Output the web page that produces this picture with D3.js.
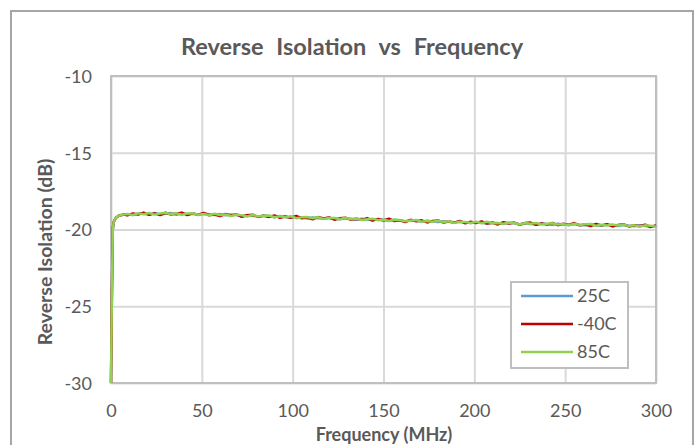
<!DOCTYPE html>
<html><head><meta charset="utf-8">
<script src="https://cdn.jsdelivr.net/npm/d3@7"></script>
<style>body{margin:0;background:#fff;}svg{display:block;font-family:Lato,"Open Sans",sans-serif;}</style>
</head><body><svg id="c" width="699" height="445"></svg>
<script>
const freq = [0,0.5,1,1.5,2,3,4,5,6,7,
9,12,15,18,21,24,27,30,33,36,39,42,45,48,51,54,57,60,63,66,69,72,75,78,81,84,87,90,93,96,99,
102,105,108,111,114,117,120,123,126,129,132,135,138,141,144,147,150,153,156,159,162,165,168,171,174,177,180,183,186,189,192,195,198,
201,204,207,210,213,216,219,222,225,228,231,234,237,240,243,246,249,252,255,258,261,264,267,270,273,276,279,282,285,288,291,294,297,300];
const s25 = [-30,-24.2,-20.0,-19.55,-19.38,-19.22,-19.13,-19.08,-19.05,-19.03,
-19.00,-19.06,-18.96,-18.98,-19.02,-18.92,-19.02,-18.98,-18.93,-19.04,-18.95,-19.00,-18.97,-19.05,-18.97,-19.01,-19.06,-18.99,-19.08,-19.03,-19.05,-19.13,-19.06,-19.10,-19.16,-19.09,-19.13,-19.20,-19.12,-19.18,-19.24,
-19.18,-19.21,-19.28,-19.21,-19.26,-19.29,-19.23,-19.30,-19.34,-19.27,-19.30,-19.36,-19.30,-19.35,-19.39,-19.33,-19.37,-19.43,-19.36,-19.42,-19.46,-19.40,-19.43,-19.49,-19.43,-19.48,-19.52,-19.46,-19.49,-19.55,-19.49,-19.54,-19.58,
-19.52,-19.56,-19.61,-19.54,-19.60,-19.63,-19.57,-19.60,-19.66,-19.59,-19.64,-19.67,-19.61,-19.65,-19.70,-19.63,-19.68,-19.71,-19.64,-19.70,-19.73,-19.66,-19.72,-19.75,-19.68,-19.73,-19.77,-19.71,-19.75,-19.79,-19.72,-19.78,-19.81,-19.75];
const sM40 = [-30,-24.0,-19.9,-19.5,-19.36,-19.2,-19.12,-19.07,-19.06,-19.02,
-19.08,-18.96,-19.02,-18.90,-19.05,-18.95,-19.06,-18.91,-19.02,-18.96,-18.90,-19.06,-18.95,-19.03,-18.92,-19.07,-19.02,-19.13,-18.99,-19.08,-19.02,-19.17,-19.07,-19.04,-19.18,-19.11,-19.18,-19.08,-19.24,-19.15,-19.23,
-19.12,-19.27,-19.22,-19.33,-19.19,-19.28,-19.22,-19.36,-19.26,-19.23,-19.37,-19.30,-19.37,-19.26,-19.42,-19.32,-19.41,-19.30,-19.45,-19.40,-19.51,-19.37,-19.46,-19.40,-19.54,-19.44,-19.41,-19.55,-19.48,-19.55,-19.44,-19.60,-19.50,
-19.58,-19.47,-19.61,-19.56,-19.67,-19.52,-19.61,-19.55,-19.69,-19.58,-19.55,-19.69,-19.61,-19.68,-19.57,-19.72,-19.62,-19.70,-19.58,-19.73,-19.68,-19.78,-19.64,-19.73,-19.66,-19.80,-19.70,-19.66,-19.80,-19.73,-19.79,-19.68,-19.84,-19.74];
const s85 = [-30,-24.1,-19.95,-19.52,-19.37,-19.21,-19.12,-19.08,-19.04,-19.03,
-18.99,-19.05,-18.95,-19.01,-18.93,-19.03,-18.96,-18.91,-19.01,-18.94,-19.04,-18.96,-18.94,-19.04,-18.99,-19.07,-18.97,-19.06,-19.02,-19.12,-19.03,-19.08,-19.15,-19.05,-19.15,-19.11,-19.09,-19.20,-19.14,-19.21,-19.14,
-19.26,-19.21,-19.19,-19.27,-19.20,-19.32,-19.25,-19.25,-19.33,-19.24,-19.33,-19.28,-19.38,-19.33,-19.30,-19.39,-19.36,-19.45,-19.36,-19.38,-19.47,-19.41,-19.38,-19.49,-19.45,-19.50,-19.43,-19.51,-19.46,-19.57,-19.49,-19.51,-19.58,
-19.50,-19.59,-19.50,-19.59,-19.57,-19.63,-19.55,-19.58,-19.67,-19.58,-19.63,-19.58,-19.67,-19.62,-19.59,-19.68,-19.65,-19.72,-19.63,-19.70,-19.66,-19.64,-19.76,-19.69,-19.74,-19.68,-19.74,-19.67,-19.78,-19.73,-19.80,-19.73,-19.76,-19.82];
const seriesNames = ["25C","-40C","85C"];
const seriesColors = ["#5B9BD5","#C00000","#92D050"];
const xTicks = [0,50,100,150,200,250,300];
const yTicks = [-10,-15,-20,-25,-30];
const title = "Reverse Isolation vs Frequency";
const xTitle = "Frequency (MHz)";
const yTitle = "Reverse Isolation (dB)";

const svg = d3.select("#c");
const L=111, R=656, T=76, B=383;
const grey="#595959";
svg.append("rect").attr("x",11).attr("y",11).attr("width",682).attr("height",460)
  .attr("fill","#fff").attr("stroke","#a6a6a6").attr("stroke-width",2);

const x = d3.scaleLinear().domain([0,300]).range([L,R]);
const y = d3.scaleLinear().domain([-30,-10]).range([B,T]);
const fmt = d => String(d);

const gx = svg.append("g").attr("transform",`translate(0,${B})`)
  .call(d3.axisBottom(x).tickValues(xTicks).tickSize(-(B-T)).tickFormat(fmt));
const gy = svg.append("g").attr("transform",`translate(${L},0)`)
  .call(d3.axisLeft(y).tickValues(yTicks).tickSize(-(R-L)).tickFormat(fmt));
[gx,gy].forEach(g=>{
  g.select(".domain").remove();
  g.selectAll(".tick line").attr("stroke","#d9d9d9").attr("stroke-width",2);
  g.selectAll(".tick text").attr("fill",grey).attr("font-size",18).attr("font-family","Lato");
});
gx.selectAll(".tick text").attr("y",34).attr("dy",0);
gy.selectAll(".tick text").attr("x",-19).attr("dy","0.36em");
svg.append("rect").attr("x",L).attr("y",T).attr("width",R-L).attr("height",B-T)
  .attr("fill","none").attr("stroke","#bfbfbf").attr("stroke-width",2);

const line = d3.line().x((d,i)=>x(freq[i])).y(d=>y(d));
[s25,sM40,s85].forEach((s,k)=>{
  svg.append("path").datum(s).attr("d",line).attr("fill","none")
    .attr("stroke",seriesColors[k]).attr("stroke-width",2.5).attr("stroke-linejoin","round");
});

svg.append("text").attr("x",352).attr("y",55).attr("text-anchor","middle")
  .attr("font-size",23.5).attr("font-weight","bold").attr("word-spacing",7).attr("fill",grey).text(title);
svg.append("text").attr("x",384).attr("y",441).attr("text-anchor","middle")
  .attr("font-size",18).attr("font-weight","bold").attr("fill",grey).text(xTitle);
svg.append("text").attr("transform",`translate(52,252) rotate(-90)`).attr("text-anchor","middle")
  .attr("font-size",19.5).attr("font-weight","bold").attr("fill",grey).text(yTitle);

const lg = svg.append("g");
lg.append("rect").attr("x",511).attr("y",282).attr("width",117).attr("height",86)
  .attr("fill","#fff").attr("stroke","#bfbfbf").attr("stroke-width",2);
seriesNames.forEach((n,k)=>{
  const yy = 296 + k*28;
  lg.append("line").attr("x1",521).attr("x2",573).attr("y1",yy).attr("y2",yy)
    .attr("stroke",seriesColors[k]).attr("stroke-width",2.5);
  lg.append("text").attr("x",577).attr("y",yy).attr("dy","0.36em")
    .attr("font-size",18).attr("fill",grey).text(n);
});
</script></body></html>
